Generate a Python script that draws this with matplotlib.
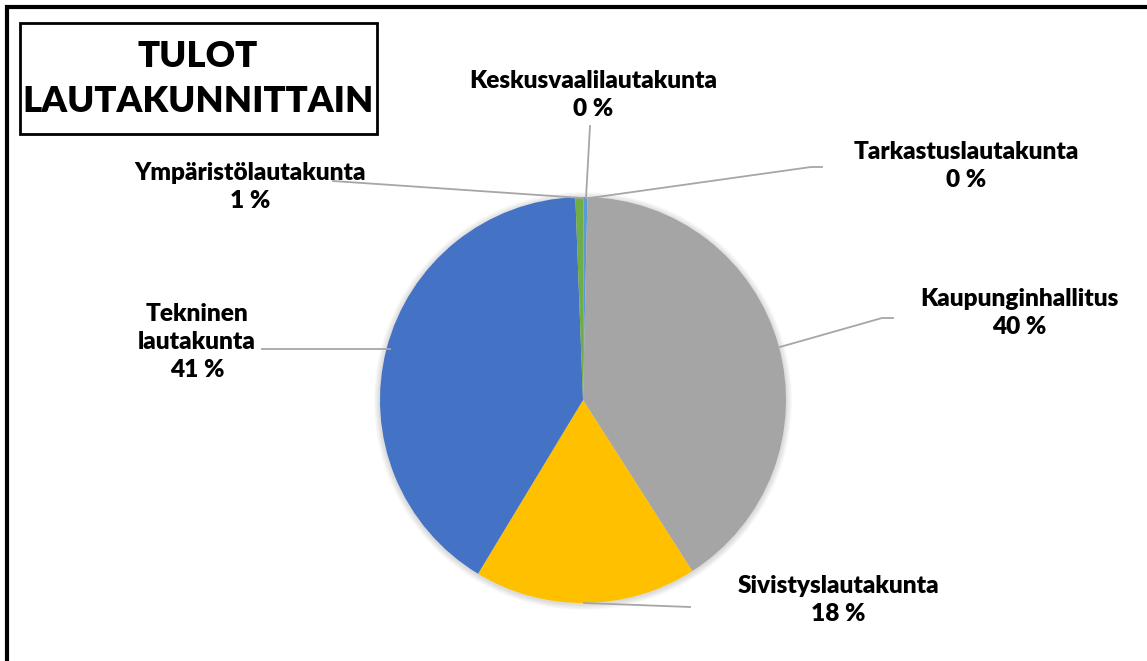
import matplotlib
matplotlib.use("Agg")
import matplotlib.pyplot as plt
from matplotlib.patches import Rectangle, Circle

# data (clockwise from 12 o'clock)
labels = ["Keskusvaalilautakunta", "Tarkastuslautakunta", "Kaupunginhallitus",
          "Sivistyslautakunta", "Tekninen\nlautakunta", "Ympäristölautakunta"]
values = [0.05, 0.3, 40.6, 17.7, 40.75, 0.6]
pct_text = ["0 %", "0 %", "40 %", "18 %", "41 %", "1 %"]
colors = ["#ED7D31", "#5B9BD5", "#A5A5A5", "#FFC000", "#4472C4", "#70AD47"]

W, H = 1147, 661
plt.rcParams['font.family'] = ['Lato', 'DejaVu Sans']

fig = plt.figure(figsize=(W / 100, H / 100), dpi=100)
ax = fig.add_axes([0, 0, 1, 1])


def py(y):
    return H - y


# soft shadow around the pie
for k in range(1, 7):
    ax.add_patch(Circle((583, py(401)), 203 + k, color="black", alpha=0.025, lw=0, zorder=0))

ax.pie(values, colors=colors, startangle=90, counterclock=False,
       center=(583, py(400)), radius=203, wedgeprops=dict(linewidth=0))

# label positions (pixel coords) and leader lines
label_pos = [(593, 95), (966, 166), (1019, 313), (838, 600), (197, 342), (250, 187)]
leaders = [
    [(590, 126), (586, 198)],
    [(822, 167), (811, 167), (590, 198)],
    [(893, 318), (882, 318), (780, 347)],
    [(690, 607), (584, 603)],
    [(262, 349), (390, 349)],
    [(333, 181), (582, 198)],
]
for lab, p, (x, y) in zip(labels, pct_text, label_pos):
    ax.text(x, py(y), lab + "\n" + p, ha="center", va="center",
            fontsize=17.6, fontweight="heavy", linespacing=1.35)
for pts in leaders:
    ax.plot([q[0] for q in pts], [py(q[1]) for q in pts], color="#A6A6A6", lw=1.3)

# title box
ax.add_patch(Rectangle((20, py(134)), 357, 111, fill=False, edgecolor="black", lw=2))
ax.text(198, py(79), "TULOT\nLAUTAKUNNITTAIN", ha="center", va="center",
        fontsize=26.2, fontweight="heavy", linespacing=1.45)

# outer border
ax.add_patch(Rectangle((7, py(700)), 1160, 693, fill=False, edgecolor="black", lw=3))

ax.set_xlim(0, W)
ax.set_ylim(0, H)
ax.set_aspect("auto")
ax.axis("off")
fig.savefig("out.png", dpi=100)
